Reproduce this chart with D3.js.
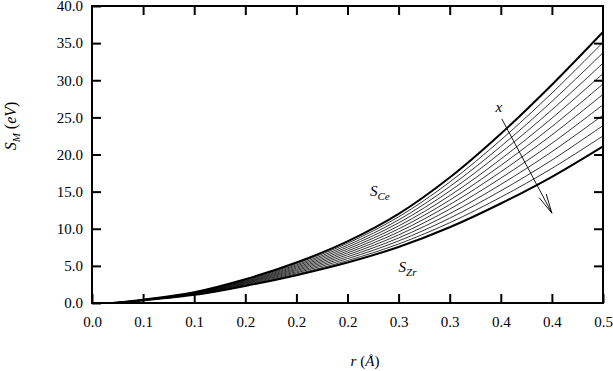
<!doctype html>
<html lang="en">
    <head>
        <meta charset="utf-8">
        <title>S_M vs r</title>
        <style>
            body { margin: 0; background: #fff; }
            text { font-family: "Liberation Serif", "DejaVu Serif", serif; fill: #000; }
        </style>
    </head>

    <body>
        <script src="https://cdn.jsdelivr.net/npm/d3@7"></script>
        <script>

            // data
            var r   = [0.02, 0.05, 0.10, 0.15, 0.20, 0.25, 0.30, 0.35, 0.40, 0.45, 0.50];
            var sCe = [0, 0.45, 1.45, 3.20, 5.45, 8.30, 12.00, 16.90, 22.80, 29.40, 36.50];
            var sZr = [0, 0.35, 1.10, 2.30, 3.75, 5.45, 7.55, 10.20, 13.40, 17.00, 21.10];

            // thin curves between S_Ce and S_Zr
            var mix1  = [0, 0.44, 1.42, 3.12, 5.30, 8.04, 11.60, 16.29, 21.95, 28.27, 35.1];
            var mix2  = [0, 0.43, 1.39, 3.04, 5.14, 7.78, 11.19, 15.68, 21.09, 27.15, 33.7];
            var mix3  = [0, 0.42, 1.35, 2.95, 4.99, 7.52, 10.79, 15.07, 20.24, 26.02, 32.3];
            var mix4  = [0, 0.41, 1.32, 2.87, 4.83, 7.26, 10.38, 14.46, 19.38, 24.89, 30.9];
            var mix5  = [0, 0.40, 1.29, 2.79, 4.68, 7.00, 9.98, 13.85, 18.53, 23.76, 29.5];
            var mix6  = [0, 0.40, 1.26, 2.71, 4.52, 6.75, 9.57, 13.25, 17.67, 22.64, 28.1];
            var mix7  = [0, 0.39, 1.23, 2.63, 4.37, 6.49, 9.17, 12.64, 16.82, 21.51, 26.7];
            var mix8  = [0, 0.38, 1.20, 2.55, 4.21, 6.23, 8.76, 12.03, 15.96, 20.38, 25.3];
            var mix9  = [0, 0.37, 1.16, 2.46, 4.06, 5.97, 8.36, 11.42, 15.11, 19.25, 23.9];
            var mix10 = [0, 0.36, 1.13, 2.38, 3.90, 5.71, 7.95, 10.81, 14.25, 18.13, 22.5];

            var xTicks = [0, 0.05, 0.1, 0.15, 0.2, 0.25, 0.3, 0.35, 0.4, 0.45, 0.5];
            var xTickLabels = ["0.0", "0.1", "0.1", "0.2", "0.2", "0.2", "0.3", "0.3", "0.4", "0.4", "0.5"];
            var yTicks = [0, 5, 10, 15, 20, 25, 30, 35, 40];
            var yTickLabels = ["0.0", "5.0", "10.0", "15.0", "20.0", "25.0", "30.0", "35.0", "40.0"];

            var w = 613;
            var h = 371;
            var plotL = 92, plotR = 603, plotT = 6, plotB = 303;

            var x = d3.scaleLinear().domain([0, 0.5]).range([plotL, plotR]);
            var y = d3.scaleLinear().domain([0, 40]).range([plotB, plotT]);

            var svg = d3.select("body")
                        .append("svg")
                        .attr("width", w)
                        .attr("height", h);

            // axes, ticks pointing inward
            var tick = 9;
            var fontSize = "15px";

            svg.append("g")
                .attr("transform", "translate(0," + plotB + ")")
                .call(d3.axisBottom(x).tickValues(xTicks)
                    .tickFormat(function(d, i) { return xTickLabels[i]; })
                    .tickSize(-tick).tickSizeOuter(0).tickPadding(13));

            svg.append("g")
                .attr("transform", "translate(" + plotL + ",0)")
                .call(d3.axisLeft(y).tickValues(yTicks)
                    .tickFormat(function(d, i) { return yTickLabels[i]; })
                    .tickSize(-tick).tickSizeOuter(0).tickPadding(9));

            svg.append("g")
                .attr("transform", "translate(0," + plotT + ")")
                .call(d3.axisTop(x).tickValues(xTicks.slice(1, -1)).tickFormat("")
                    .tickSize(-tick).tickSizeOuter(0));

            svg.append("g")
                .attr("transform", "translate(" + plotR + ",0)")
                .call(d3.axisRight(y).tickValues(yTicks.slice(1, -1)).tickFormat("")
                    .tickSize(-tick).tickSizeOuter(0));

            svg.selectAll(".domain").remove();
            svg.selectAll(".tick line").attr("stroke", "#000").attr("stroke-width", 2);
            svg.selectAll(".tick text").style("font-size", fontSize).attr("fill", "#000");

            // frame
            svg.append("rect")
                .attr("x", plotL)
                .attr("y", plotT)
                .attr("width", plotR - plotL)
                .attr("height", plotB - plotT)
                .attr("fill", "none")
                .attr("stroke", "#000")
                .attr("stroke-width", 2);

            // curves
            var line = d3.line()
                .x(function(d, i) { return x(r[i]); })
                .y(function(d) { return y(d); })
                .curve(d3.curveCatmullRom.alpha(0.5));

            var thin = [mix1, mix2, mix3, mix4, mix5, mix6, mix7, mix8, mix9, mix10];

            svg.selectAll("path.thin")
               .data(thin)
               .enter()
               .append("path")
               .attr("class", "thin")
               .attr("d", line)
               .attr("fill", "none")
               .attr("stroke", "#000")
               .attr("stroke-width", 0.8);

            svg.selectAll("path.thick")
               .data([sCe, sZr])
               .enter()
               .append("path")
               .attr("class", "thick")
               .attr("d", line)
               .attr("fill", "none")
               .attr("stroke", "#000")
               .attr("stroke-width", 2);

            // labels on curves
            function subLabel(px, py, main, sub) {
                var t = svg.append("text")
                    .attr("x", x(px))
                    .attr("y", y(py))
                    .style("font-size", fontSize)
                    .style("font-style", "italic");
                t.append("tspan").text(main);
                t.append("tspan").attr("dy", 4).style("font-size", "11px").text(sub);
                return t;
            }

            subLabel(0.272, 14.4, "S", "Ce");
            subLabel(0.300, 4.2, "S", "Zr");

            svg.append("text")
                .attr("x", x(0.398))
                .attr("y", y(25.7))
                .attr("text-anchor", "middle")
                .style("font-size", fontSize)
                .style("font-style", "italic")
                .text("x");

            // arrow across the family
            var a0 = [0.401, 24.8], a1 = [0.450, 12.1];
            var ax0 = x(a0[0]), ay0 = y(a0[1]), ax1 = x(a1[0]), ay1 = y(a1[1]);
            var ang = Math.atan2(ay1 - ay0, ax1 - ax0);
            var headLen = 20, headAng = 0.2;

            svg.append("line")
                .attr("x1", ax0).attr("y1", ay0)
                .attr("x2", ax1).attr("y2", ay1)
                .attr("stroke", "#000").attr("stroke-width", 0.9);

            [-headAng, headAng].forEach(function(da) {
                svg.append("line")
                    .attr("x1", ax1).attr("y1", ay1)
                    .attr("x2", ax1 - headLen * Math.cos(ang + da))
                    .attr("y2", ay1 - headLen * Math.sin(ang + da))
                    .attr("stroke", "#000").attr("stroke-width", 0.9);
            });

            // axis titles
            var yt = svg.append("text")
                .attr("transform", "translate(16,126) rotate(-90)")
                .attr("text-anchor", "middle")
                .style("font-size", "16px");
            yt.append("tspan").style("font-style", "italic").text("S");
            yt.append("tspan").attr("dy", 4).style("font-size", "11px").style("font-style", "italic").text("M");
            yt.append("tspan").attr("dy", -4).text(" (");
            yt.append("tspan").style("font-style", "italic").text("eV");
            yt.append("tspan").text(")");

            var xt = svg.append("text")
                .attr("x", 365)
                .attr("y", 366)
                .attr("text-anchor", "middle")
                .style("font-size", fontSize);
            xt.append("tspan").style("font-style", "italic").text("r");
            xt.append("tspan").text(" (");
            xt.append("tspan").style("font-style", "italic").text("Å");
            xt.append("tspan").text(")");

        </script>
    </body>
</html>
